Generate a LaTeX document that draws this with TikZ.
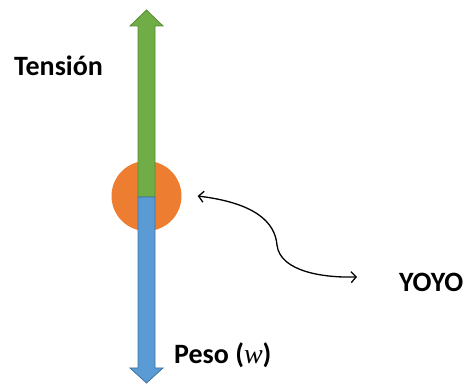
\documentclass[tikz,border=0pt]{standalone}
\usepackage{fontspec}
\setmainfont{Carlito}
\newfontfamily\mathlike{Liberation Serif}
\usetikzlibrary{arrows.meta}
\definecolor{tensiongreen}{RGB}{112,173,71}
\definecolor{tensionedge}{RGB}{84,140,50}
\definecolor{pesoblue}{RGB}{91,155,213}
\definecolor{pesoedge}{RGB}{65,113,156}
\definecolor{yoyoorange}{RGB}{237,125,49}
\tikzset{
    label text/.style={font=\bfseries\fontsize{28}{32}\selectfont, inner sep=0pt},
    force/.style={line width=0.8pt, line join=miter}
}
\begin{document}
\begin{tikzpicture}[x=1pt, y=-1pt]
                \useasboundingbox (0,0) rectangle (467,385);
                % yoyo
                \node[circle, fill=yoyoorange, minimum size=70pt, inner sep=0pt] (yoyo) at (146.5,196) {};
                % tension
                \draw[force, fill=tensiongreen, draw=tensionedge] (138,197) -- (138,26) -- (130,26) -- (146.5,10) -- (163,26) -- (155,26) -- (155,197) -- cycle;
                % weight
                \draw[force, fill=pesoblue, draw=pesoedge] (138,197) -- (138,368) -- (130,368) -- (146.5,383) -- (163,368) -- (155,368) -- (155,197) -- cycle;
                \node[label text, anchor=base west] (tension) at (14,76) {Tensión};
                \node[label text, anchor=base west] (peso) at (174,364) {Peso ({\mathlike\itshape\mdseries w})};
                \node[label text, anchor=base west] (name) at (399,292) {YOYO};
                % pointer
                \coordinate (p1) at ([xshift=16pt]yoyo.east);
                \coordinate (p2) at ([xshift=-42pt, yshift=6pt]name.west);
                \draw[{Straight Barb[length=5pt,width=11pt]}-{Straight Barb[length=5pt,width=11pt]}, line width=1.3pt]
                    (p1) .. controls (255,203) and (275,222) .. (277,245)
                    .. controls (280,272) and (325,278) .. (p2);
            \end{tikzpicture}
\end{document}
